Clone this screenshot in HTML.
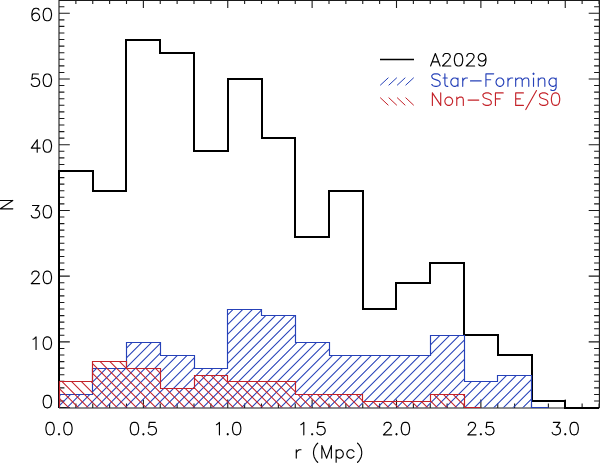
<!DOCTYPE html><html><head><meta charset="utf-8"><title>A2029 histogram</title><style>html,body{margin:0;padding:0;background:#fff;width:600px;height:463px;overflow:hidden;}svg{display:block;}</style></head><body>
<svg width="600" height="463" viewBox="0 0 600 463">
<rect width="600" height="463" fill="#fff"/>
<defs>
<clipPath id="cb"><path d="M59.50 407.50 L59.50 394.50 L92.50 394.50 L92.50 368.50 L126.50 368.50 L126.50 342.50 L160.50 342.50 L160.50 355.50 L194.50 355.50 L194.50 368.50 L227.50 368.50 L227.50 309.50 L261.50 309.50 L261.50 315.50 L295.50 315.50 L295.50 342.50 L329.50 342.50 L329.50 355.50 L362.50 355.50 L362.50 355.50 L396.50 355.50 L396.50 355.50 L430.50 355.50 L430.50 335.50 L464.50 335.50 L464.50 381.50 L497.50 381.50 L497.50 375.50 L531.50 375.50 L531.50 407.50 L565.50 407.50 L565.50 407.50 Z"/></clipPath>
<clipPath id="cr"><path d="M59.50 407.50 L59.50 381.50 L92.50 381.50 L92.50 361.50 L126.50 361.50 L126.50 368.50 L160.50 368.50 L160.50 388.50 L194.50 388.50 L194.50 375.50 L227.50 375.50 L227.50 381.50 L261.50 381.50 L261.50 381.50 L295.50 381.50 L295.50 394.50 L329.50 394.50 L329.50 394.50 L362.50 394.50 L362.50 401.50 L396.50 401.50 L396.50 401.50 L430.50 401.50 L430.50 394.50 L464.50 394.50 L464.50 407.50 L497.50 407.50 L497.50 407.50 Z"/></clipPath>
</defs>
<path d="M59.00 0.00 L59.00 407.60 M59.00 408.00 L599.00 408.00 M599.40 0.00 L599.40 408.10 M59.00 0.50 L599.00 0.50 M59.00 407.60 L59.00 399.50 M59.00 0.00 L59.00 8.10 M75.88 407.60 L75.88 403.55 M75.88 0.00 L75.88 4.05 M92.75 407.60 L92.75 403.55 M92.75 0.00 L92.75 4.05 M109.62 407.60 L109.62 403.55 M109.62 0.00 L109.62 4.05 M126.50 407.60 L126.50 403.55 M126.50 0.00 L126.50 4.05 M143.38 407.60 L143.38 399.50 M143.38 0.00 L143.38 8.10 M160.25 407.60 L160.25 403.55 M160.25 0.00 L160.25 4.05 M177.12 407.60 L177.12 403.55 M177.12 0.00 L177.12 4.05 M194.00 407.60 L194.00 403.55 M194.00 0.00 L194.00 4.05 M210.88 407.60 L210.88 403.55 M210.88 0.00 L210.88 4.05 M227.75 407.60 L227.75 399.50 M227.75 0.00 L227.75 8.10 M244.62 407.60 L244.62 403.55 M244.62 0.00 L244.62 4.05 M261.50 407.60 L261.50 403.55 M261.50 0.00 L261.50 4.05 M278.38 407.60 L278.38 403.55 M278.38 0.00 L278.38 4.05 M295.25 407.60 L295.25 403.55 M295.25 0.00 L295.25 4.05 M312.12 407.60 L312.12 399.50 M312.12 0.00 L312.12 8.10 M329.00 407.60 L329.00 403.55 M329.00 0.00 L329.00 4.05 M345.88 407.60 L345.88 403.55 M345.88 0.00 L345.88 4.05 M362.75 407.60 L362.75 403.55 M362.75 0.00 L362.75 4.05 M379.62 407.60 L379.62 403.55 M379.62 0.00 L379.62 4.05 M396.50 407.60 L396.50 399.50 M396.50 0.00 L396.50 8.10 M413.38 407.60 L413.38 403.55 M413.38 0.00 L413.38 4.05 M430.25 407.60 L430.25 403.55 M430.25 0.00 L430.25 4.05 M447.13 407.60 L447.13 403.55 M447.13 0.00 L447.13 4.05 M464.00 407.60 L464.00 403.55 M464.00 0.00 L464.00 4.05 M480.88 407.60 L480.88 399.50 M480.88 0.00 L480.88 8.10 M497.75 407.60 L497.75 403.55 M497.75 0.00 L497.75 4.05 M514.62 407.60 L514.62 403.55 M514.62 0.00 L514.62 4.05 M531.50 407.60 L531.50 403.55 M531.50 0.00 L531.50 4.05 M548.38 407.60 L548.38 403.55 M548.38 0.00 L548.38 4.05 M565.25 407.60 L565.25 399.50 M565.25 0.00 L565.25 8.10 M582.12 407.60 L582.12 403.55 M582.12 0.00 L582.12 4.05 M599.00 407.60 L599.00 403.55 M599.00 0.00 L599.00 4.05 M59.00 407.60 L69.80 407.60 M599.50 407.60 L588.70 407.60 M59.00 401.03 L64.40 401.03 M599.50 401.03 L594.10 401.03 M59.00 394.46 L64.40 394.46 M599.50 394.46 L594.10 394.46 M59.00 387.88 L64.40 387.88 M599.50 387.88 L594.10 387.88 M59.00 381.31 L64.40 381.31 M599.50 381.31 L594.10 381.31 M59.00 374.74 L64.40 374.74 M599.50 374.74 L594.10 374.74 M59.00 368.17 L64.40 368.17 M599.50 368.17 L594.10 368.17 M59.00 361.60 L64.40 361.60 M599.50 361.60 L594.10 361.60 M59.00 355.02 L64.40 355.02 M599.50 355.02 L594.10 355.02 M59.00 348.45 L64.40 348.45 M599.50 348.45 L594.10 348.45 M59.00 341.88 L69.80 341.88 M599.50 341.88 L588.70 341.88 M59.00 335.31 L64.40 335.31 M599.50 335.31 L594.10 335.31 M59.00 328.74 L64.40 328.74 M599.50 328.74 L594.10 328.74 M59.00 322.16 L64.40 322.16 M599.50 322.16 L594.10 322.16 M59.00 315.59 L64.40 315.59 M599.50 315.59 L594.10 315.59 M59.00 309.02 L64.40 309.02 M599.50 309.02 L594.10 309.02 M59.00 302.45 L64.40 302.45 M599.50 302.45 L594.10 302.45 M59.00 295.88 L64.40 295.88 M599.50 295.88 L594.10 295.88 M59.00 289.30 L64.40 289.30 M599.50 289.30 L594.10 289.30 M59.00 282.73 L64.40 282.73 M599.50 282.73 L594.10 282.73 M59.00 276.16 L69.80 276.16 M599.50 276.16 L588.70 276.16 M59.00 269.59 L64.40 269.59 M599.50 269.59 L594.10 269.59 M59.00 263.02 L64.40 263.02 M599.50 263.02 L594.10 263.02 M59.00 256.44 L64.40 256.44 M599.50 256.44 L594.10 256.44 M59.00 249.87 L64.40 249.87 M599.50 249.87 L594.10 249.87 M59.00 243.30 L64.40 243.30 M599.50 243.30 L594.10 243.30 M59.00 236.73 L64.40 236.73 M599.50 236.73 L594.10 236.73 M59.00 230.16 L64.40 230.16 M599.50 230.16 L594.10 230.16 M59.00 223.58 L64.40 223.58 M599.50 223.58 L594.10 223.58 M59.00 217.01 L64.40 217.01 M599.50 217.01 L594.10 217.01 M59.00 210.44 L69.80 210.44 M599.50 210.44 L588.70 210.44 M59.00 203.87 L64.40 203.87 M599.50 203.87 L594.10 203.87 M59.00 197.30 L64.40 197.30 M599.50 197.30 L594.10 197.30 M59.00 190.72 L64.40 190.72 M599.50 190.72 L594.10 190.72 M59.00 184.15 L64.40 184.15 M599.50 184.15 L594.10 184.15 M59.00 177.58 L64.40 177.58 M599.50 177.58 L594.10 177.58 M59.00 171.01 L64.40 171.01 M599.50 171.01 L594.10 171.01 M59.00 164.44 L64.40 164.44 M599.50 164.44 L594.10 164.44 M59.00 157.86 L64.40 157.86 M599.50 157.86 L594.10 157.86 M59.00 151.29 L64.40 151.29 M599.50 151.29 L594.10 151.29 M59.00 144.72 L69.80 144.72 M599.50 144.72 L588.70 144.72 M59.00 138.15 L64.40 138.15 M599.50 138.15 L594.10 138.15 M59.00 131.58 L64.40 131.58 M599.50 131.58 L594.10 131.58 M59.00 125.00 L64.40 125.00 M599.50 125.00 L594.10 125.00 M59.00 118.43 L64.40 118.43 M599.50 118.43 L594.10 118.43 M59.00 111.86 L64.40 111.86 M599.50 111.86 L594.10 111.86 M59.00 105.29 L64.40 105.29 M599.50 105.29 L594.10 105.29 M59.00 98.72 L64.40 98.72 M599.50 98.72 L594.10 98.72 M59.00 92.14 L64.40 92.14 M599.50 92.14 L594.10 92.14 M59.00 85.57 L64.40 85.57 M599.50 85.57 L594.10 85.57 M59.00 79.00 L69.80 79.00 M599.50 79.00 L588.70 79.00 M59.00 72.43 L64.40 72.43 M599.50 72.43 L594.10 72.43 M59.00 65.86 L64.40 65.86 M599.50 65.86 L594.10 65.86 M59.00 59.28 L64.40 59.28 M599.50 59.28 L594.10 59.28 M59.00 52.71 L64.40 52.71 M599.50 52.71 L594.10 52.71 M59.00 46.14 L64.40 46.14 M599.50 46.14 L594.10 46.14 M59.00 39.57 L64.40 39.57 M599.50 39.57 L594.10 39.57 M59.00 33.00 L64.40 33.00 M599.50 33.00 L594.10 33.00 M59.00 26.42 L64.40 26.42 M599.50 26.42 L594.10 26.42 M59.00 19.85 L64.40 19.85 M599.50 19.85 L594.10 19.85 M59.00 13.28 L69.80 13.28 M599.50 13.28 L588.70 13.28 M59.00 6.71 L64.40 6.71 M599.50 6.71 L594.10 6.71 M59.00 0.14 L64.40 0.14 M599.50 0.14 L594.10 0.14" stroke="#1a1a1a" stroke-width="1.10" fill="none"/>
<path d="M59.00 408.00 L59.00 171.00 L93.00 171.00 L93.00 191.00 L126.00 191.00 L126.00 40.00 L160.00 40.00 L160.00 53.00 L194.00 53.00 L194.00 151.00 L228.00 151.00 L228.00 79.00 L262.00 79.00 L262.00 138.00 L295.00 138.00 L295.00 237.00 L329.00 237.00 L329.00 191.00 L363.00 191.00 L363.00 309.00 L396.00 309.00 L396.00 283.00 L430.00 283.00 L430.00 263.00 L464.00 263.00 L464.00 335.00 L498.00 335.00 L498.00 355.00 L532.00 355.00 L532.00 401.00 L565.00 401.00 L565.00 408.00 L599.00 408.00" stroke="#000" stroke-width="2" fill="none"/>
<path clip-path="url(#cb)" d="M-71.20 410.00 L38.80 300.00 M-61.50 410.00 L48.50 300.00 M-51.80 410.00 L58.20 300.00 M-42.10 410.00 L67.90 300.00 M-32.40 410.00 L77.60 300.00 M-22.70 410.00 L87.30 300.00 M-13.00 410.00 L97.00 300.00 M-3.30 410.00 L106.70 300.00 M6.40 410.00 L116.40 300.00 M16.10 410.00 L126.10 300.00 M25.80 410.00 L135.80 300.00 M35.50 410.00 L145.50 300.00 M45.20 410.00 L155.20 300.00 M54.90 410.00 L164.90 300.00 M64.60 410.00 L174.60 300.00 M74.30 410.00 L184.30 300.00 M84.00 410.00 L194.00 300.00 M93.70 410.00 L203.70 300.00 M103.40 410.00 L213.40 300.00 M113.10 410.00 L223.10 300.00 M122.80 410.00 L232.80 300.00 M132.50 410.00 L242.50 300.00 M142.20 410.00 L252.20 300.00 M151.90 410.00 L261.90 300.00 M161.60 410.00 L271.60 300.00 M171.30 410.00 L281.30 300.00 M181.00 410.00 L291.00 300.00 M190.70 410.00 L300.70 300.00 M200.40 410.00 L310.40 300.00 M210.10 410.00 L320.10 300.00 M219.80 410.00 L329.80 300.00 M229.50 410.00 L339.50 300.00 M239.20 410.00 L349.20 300.00 M248.90 410.00 L358.90 300.00 M258.60 410.00 L368.60 300.00 M268.30 410.00 L378.30 300.00 M278.00 410.00 L388.00 300.00 M287.70 410.00 L397.70 300.00 M297.40 410.00 L407.40 300.00 M307.10 410.00 L417.10 300.00 M316.80 410.00 L426.80 300.00 M326.50 410.00 L436.50 300.00 M336.20 410.00 L446.20 300.00 M345.90 410.00 L455.90 300.00 M355.60 410.00 L465.60 300.00 M365.30 410.00 L475.30 300.00 M375.00 410.00 L485.00 300.00 M384.70 410.00 L494.70 300.00 M394.40 410.00 L504.40 300.00 M404.10 410.00 L514.10 300.00 M413.80 410.00 L523.80 300.00 M423.50 410.00 L533.50 300.00 M433.20 410.00 L543.20 300.00 M442.90 410.00 L552.90 300.00 M452.60 410.00 L562.60 300.00 M462.30 410.00 L572.30 300.00 M472.00 410.00 L582.00 300.00 M481.70 410.00 L591.70 300.00 M491.40 410.00 L601.40 300.00 M501.10 410.00 L611.10 300.00 M510.80 410.00 L620.80 300.00 M520.50 410.00 L630.50 300.00 M530.20 410.00 L640.20 300.00 M539.90 410.00 L649.90 300.00 M549.60 410.00 L659.60 300.00 M559.30 410.00 L669.30 300.00 M569.00 410.00 L679.00 300.00 M578.70 410.00 L688.70 300.00" stroke="#2641b8" stroke-width="1.05" fill="none"/>
<path d="M59.50 407.50 L59.50 394.50 L92.50 394.50 L92.50 368.50 L126.50 368.50 L126.50 342.50 L160.50 342.50 L160.50 355.50 L194.50 355.50 L194.50 368.50 L227.50 368.50 L227.50 309.50 L261.50 309.50 L261.50 315.50 L295.50 315.50 L295.50 342.50 L329.50 342.50 L329.50 355.50 L362.50 355.50 L362.50 355.50 L396.50 355.50 L396.50 355.50 L430.50 355.50 L430.50 335.50 L464.50 335.50 L464.50 381.50 L497.50 381.50 L497.50 375.50 L531.50 375.50 L531.50 407.50 L548.50 407.50" stroke="#2641b8" stroke-width="1.15" fill="none"/>
<path clip-path="url(#cr)" d="M-27.80 350.00 L32.20 410.00 M-18.10 350.00 L41.90 410.00 M-8.40 350.00 L51.60 410.00 M1.30 350.00 L61.30 410.00 M11.00 350.00 L71.00 410.00 M20.70 350.00 L80.70 410.00 M30.40 350.00 L90.40 410.00 M40.10 350.00 L100.10 410.00 M49.80 350.00 L109.80 410.00 M59.50 350.00 L119.50 410.00 M69.20 350.00 L129.20 410.00 M78.90 350.00 L138.90 410.00 M88.60 350.00 L148.60 410.00 M98.30 350.00 L158.30 410.00 M108.00 350.00 L168.00 410.00 M117.70 350.00 L177.70 410.00 M127.40 350.00 L187.40 410.00 M137.10 350.00 L197.10 410.00 M146.80 350.00 L206.80 410.00 M156.50 350.00 L216.50 410.00 M166.20 350.00 L226.20 410.00 M175.90 350.00 L235.90 410.00 M185.60 350.00 L245.60 410.00 M195.30 350.00 L255.30 410.00 M205.00 350.00 L265.00 410.00 M214.70 350.00 L274.70 410.00 M224.40 350.00 L284.40 410.00 M234.10 350.00 L294.10 410.00 M243.80 350.00 L303.80 410.00 M253.50 350.00 L313.50 410.00 M263.20 350.00 L323.20 410.00 M272.90 350.00 L332.90 410.00 M282.60 350.00 L342.60 410.00 M292.30 350.00 L352.30 410.00 M302.00 350.00 L362.00 410.00 M311.70 350.00 L371.70 410.00 M321.40 350.00 L381.40 410.00 M331.10 350.00 L391.10 410.00 M340.80 350.00 L400.80 410.00 M350.50 350.00 L410.50 410.00 M360.20 350.00 L420.20 410.00 M369.90 350.00 L429.90 410.00 M379.60 350.00 L439.60 410.00 M389.30 350.00 L449.30 410.00 M399.00 350.00 L459.00 410.00 M408.70 350.00 L468.70 410.00 M418.40 350.00 L478.40 410.00 M428.10 350.00 L488.10 410.00 M437.80 350.00 L497.80 410.00 M447.50 350.00 L507.50 410.00 M457.20 350.00 L517.20 410.00 M466.90 350.00 L526.90 410.00 M476.60 350.00 L536.60 410.00 M486.30 350.00 L546.30 410.00 M496.00 350.00 L556.00 410.00 M505.70 350.00 L565.70 410.00 M515.40 350.00 L575.40 410.00" stroke="#c42229" stroke-width="1.05" fill="none"/>
<path d="M59.50 407.50 L59.50 381.50 L92.50 381.50 L92.50 361.50 L126.50 361.50 L126.50 368.50 L160.50 368.50 L160.50 388.50 L194.50 388.50 L194.50 375.50 L227.50 375.50 L227.50 381.50 L261.50 381.50 L261.50 381.50 L295.50 381.50 L295.50 394.50 L329.50 394.50 L329.50 394.50 L362.50 394.50 L362.50 401.50 L396.50 401.50 L396.50 401.50 L430.50 401.50 L430.50 394.50 L464.50 394.50 L464.50 407.50 L480.50 407.50" stroke="#c42229" stroke-width="1.15" fill="none"/>
<path d="M46.75 395.31 L44.97 395.90 L43.78 397.69 L43.18 400.66 L43.18 402.44 L43.78 405.42 L44.97 407.20 L46.75 407.80 L47.95 407.80 L49.73 407.20 L50.92 405.42 L51.52 402.44 L51.52 400.66 L50.92 397.69 L49.73 395.90 L47.95 395.31 L46.75 395.31 M33.07 339.26 L34.26 338.67 L36.05 336.88 L36.05 349.38 M46.75 336.88 L44.97 337.48 L43.78 339.26 L43.19 342.24 L43.19 344.02 L43.78 347.00 L44.97 348.78 L46.75 349.38 L47.95 349.38 L49.73 348.78 L50.92 347.00 L51.52 344.02 L51.52 342.24 L50.92 339.26 L49.73 337.48 L47.95 336.88 L46.75 336.88 M31.88 274.14 L31.88 273.55 L32.48 272.36 L33.07 271.76 L34.26 271.17 L36.64 271.17 L37.83 271.76 L38.42 272.36 L39.02 273.55 L39.02 274.74 L38.42 275.93 L37.23 277.71 L31.29 283.66 L39.62 283.66 M46.75 271.17 L44.97 271.76 L43.78 273.55 L43.19 276.52 L43.19 278.31 L43.78 281.28 L44.97 283.06 L46.75 283.66 L47.95 283.66 L49.73 283.06 L50.92 281.28 L51.52 278.31 L51.52 276.52 L50.92 273.55 L49.73 271.76 L47.95 271.17 L46.75 271.17 M32.48 205.45 L39.02 205.45 L35.45 210.21 L37.23 210.21 L38.42 210.80 L39.02 211.40 L39.62 213.18 L39.62 214.37 L39.02 216.16 L37.83 217.35 L36.05 217.94 L34.26 217.94 L32.48 217.35 L31.88 216.75 L31.29 215.56 M46.75 205.45 L44.97 206.04 L43.78 207.83 L43.19 210.80 L43.19 212.59 L43.78 215.56 L44.97 217.35 L46.75 217.94 L47.95 217.94 L49.73 217.35 L50.92 215.56 L51.52 212.59 L51.52 210.80 L50.92 207.83 L49.73 206.04 L47.95 205.45 L46.75 205.45 M37.23 139.73 L31.29 148.06 L40.21 148.06 M37.23 139.73 L37.23 152.22 M46.75 139.73 L44.97 140.32 L43.78 142.11 L43.19 145.08 L43.19 146.87 L43.78 149.84 L44.97 151.63 L46.75 152.22 L47.95 152.22 L49.73 151.63 L50.92 149.84 L51.52 146.87 L51.52 145.08 L50.92 142.11 L49.73 140.32 L47.95 139.73 L46.75 139.73 M38.42 74.00 L32.48 74.00 L31.88 79.36 L32.48 78.77 L34.26 78.17 L36.05 78.17 L37.83 78.77 L39.02 79.95 L39.62 81.74 L39.62 82.93 L39.02 84.72 L37.83 85.91 L36.05 86.50 L34.26 86.50 L32.48 85.91 L31.88 85.31 L31.29 84.12 M46.75 74.00 L44.97 74.60 L43.78 76.39 L43.19 79.36 L43.19 81.14 L43.78 84.12 L44.97 85.91 L46.75 86.50 L47.95 86.50 L49.73 85.91 L50.92 84.12 L51.52 81.14 L51.52 79.36 L50.92 76.39 L49.73 74.60 L47.95 74.00 L46.75 74.00 M39.02 10.07 L38.42 8.88 L36.64 8.29 L35.45 8.29 L33.66 8.88 L32.48 10.67 L31.88 13.64 L31.88 16.62 L32.48 19.00 L33.66 20.19 L35.45 20.78 L36.05 20.78 L37.83 20.19 L39.02 19.00 L39.62 17.21 L39.62 16.62 L39.02 14.83 L37.83 13.64 L36.05 13.05 L35.45 13.05 L33.66 13.64 L32.48 14.83 L31.88 16.62 M46.75 8.29 L44.97 8.88 L43.78 10.67 L43.19 13.64 L43.19 15.43 L43.78 18.40 L44.97 20.19 L46.75 20.78 L47.95 20.78 L49.73 20.19 L50.92 18.40 L51.52 15.43 L51.52 13.64 L50.92 10.67 L49.73 8.88 L47.95 8.29 L46.75 8.29 M49.48 422.31 L47.70 422.90 L46.51 424.69 L45.91 427.66 L45.91 429.44 L46.51 432.42 L47.70 434.20 L49.48 434.80 L50.67 434.80 L52.45 434.20 L53.64 432.42 L54.24 429.44 L54.24 427.66 L53.64 424.69 L52.45 422.90 L50.67 422.31 L49.48 422.31 M59.00 433.61 L58.41 434.20 L59.00 434.80 L59.59 434.20 L59.00 433.61 M67.33 422.31 L65.55 422.90 L64.36 424.69 L63.76 427.66 L63.76 429.44 L64.36 432.42 L65.55 434.20 L67.33 434.80 L68.52 434.80 L70.31 434.20 L71.50 432.42 L72.09 429.44 L72.09 427.66 L71.50 424.69 L70.31 422.90 L68.52 422.31 L67.33 422.31 M133.85 422.31 L132.07 422.90 L130.88 424.69 L130.28 427.66 L130.28 429.44 L130.88 432.42 L132.07 434.20 L133.85 434.80 L135.04 434.80 L136.83 434.20 L138.02 432.42 L138.62 429.44 L138.62 427.66 L138.02 424.69 L136.83 422.90 L135.04 422.31 L133.85 422.31 M143.38 433.61 L142.78 434.20 L143.38 434.80 L143.97 434.20 L143.38 433.61 M155.28 422.31 L149.32 422.31 L148.73 427.66 L149.32 427.06 L151.11 426.47 L152.90 426.47 L154.68 427.06 L155.87 428.25 L156.47 430.04 L156.47 431.23 L155.87 433.01 L154.68 434.20 L152.90 434.80 L151.11 434.80 L149.32 434.20 L148.73 433.61 L148.13 432.42 M216.44 424.69 L217.63 424.09 L219.42 422.31 L219.42 434.80 M227.75 433.61 L227.16 434.20 L227.75 434.80 L228.34 434.20 L227.75 433.61 M236.08 422.31 L234.29 422.90 L233.10 424.69 L232.51 427.66 L232.51 429.44 L233.10 432.42 L234.29 434.20 L236.08 434.80 L237.27 434.80 L239.06 434.20 L240.25 432.42 L240.84 429.44 L240.84 427.66 L240.25 424.69 L239.06 422.90 L237.27 422.31 L236.08 422.31 M300.82 424.69 L302.01 424.09 L303.80 422.31 L303.80 434.80 M312.12 433.61 L311.53 434.20 L312.12 434.80 L312.72 434.20 L312.12 433.61 M324.02 422.31 L318.07 422.31 L317.48 427.66 L318.07 427.06 L319.86 426.47 L321.64 426.47 L323.43 427.06 L324.62 428.25 L325.21 430.04 L325.21 431.23 L324.62 433.01 L323.43 434.20 L321.64 434.80 L319.86 434.80 L318.07 434.20 L317.48 433.61 L316.88 432.42 M384.00 425.28 L384.00 424.69 L384.60 423.50 L385.19 422.90 L386.38 422.31 L388.76 422.31 L389.95 422.90 L390.55 423.50 L391.14 424.69 L391.14 425.88 L390.55 427.06 L389.36 428.85 L383.41 434.80 L391.74 434.80 M396.50 433.61 L395.90 434.20 L396.50 434.80 L397.10 434.20 L396.50 433.61 M404.83 422.31 L403.05 422.90 L401.86 424.69 L401.26 427.66 L401.26 429.44 L401.86 432.42 L403.05 434.20 L404.83 434.80 L406.02 434.80 L407.81 434.20 L409.00 432.42 L409.59 429.44 L409.59 427.66 L409.00 424.69 L407.81 422.90 L406.02 422.31 L404.83 422.31 M468.38 425.28 L468.38 424.69 L468.98 423.50 L469.57 422.90 L470.76 422.31 L473.14 422.31 L474.33 422.90 L474.93 423.50 L475.52 424.69 L475.52 425.88 L474.93 427.06 L473.74 428.85 L467.79 434.80 L476.12 434.80 M480.88 433.61 L480.28 434.20 L480.88 434.80 L481.47 434.20 L480.88 433.61 M492.77 422.31 L486.82 422.31 L486.23 427.66 L486.82 427.06 L488.61 426.47 L490.39 426.47 L492.18 427.06 L493.37 428.25 L493.96 430.04 L493.96 431.23 L493.37 433.01 L492.18 434.20 L490.39 434.80 L488.61 434.80 L486.82 434.20 L486.23 433.61 L485.63 432.42 M553.35 422.31 L559.89 422.31 L556.33 427.06 L558.11 427.06 L559.30 427.66 L559.89 428.25 L560.49 430.04 L560.49 431.23 L559.89 433.01 L558.71 434.20 L556.92 434.80 L555.13 434.80 L553.35 434.20 L552.75 433.61 L552.16 432.42 M565.25 433.61 L564.65 434.20 L565.25 434.80 L565.85 434.20 L565.25 433.61 M573.58 422.31 L571.79 422.90 L570.61 424.69 L570.01 427.66 L570.01 429.44 L570.61 432.42 L571.79 434.20 L573.58 434.80 L574.77 434.80 L576.55 434.20 L577.75 432.42 L578.34 429.44 L578.34 427.66 L577.75 424.69 L576.55 422.90 L574.77 422.31 L573.58 422.31 M296.27 449.77 L296.27 458.10 M296.27 453.34 L296.87 451.56 L298.06 450.37 L299.25 449.77 L301.03 449.77 M317.69 443.23 L316.50 444.42 L315.31 446.20 L314.12 448.58 L313.53 451.56 L313.53 453.94 L314.12 456.91 L315.31 459.29 L316.50 461.08 L317.69 462.27 M321.86 445.61 L321.86 458.10 M321.86 445.61 L326.62 458.10 M331.38 445.61 L326.62 458.10 M331.38 445.61 L331.38 458.10 M336.14 449.77 L336.14 462.27 M336.14 451.56 L337.33 450.37 L338.52 449.77 L340.30 449.77 L341.50 450.37 L342.69 451.56 L343.28 453.34 L343.28 454.53 L342.69 456.31 L341.50 457.50 L340.30 458.10 L338.52 458.10 L337.33 457.50 L336.14 456.31 M353.99 451.56 L352.80 450.37 L351.61 449.77 L349.82 449.77 L348.63 450.37 L347.44 451.56 L346.85 453.34 L346.85 454.53 L347.44 456.31 L348.63 457.50 L349.82 458.10 L351.61 458.10 L352.80 457.50 L353.99 456.31 M357.56 443.23 L358.75 444.42 L359.94 446.20 L361.13 448.58 L361.72 451.56 L361.72 453.94 L361.13 456.91 L359.94 459.29 L358.75 461.08 L357.56 462.27 M0.31 208.81 L12.80 208.81 M0.31 208.81 L12.80 200.48 M0.31 200.48 L12.80 200.48 M435.36 53.51 L430.60 66.00 M435.36 53.51 L440.12 66.00 M432.38 61.84 L438.33 61.84 M443.09 56.48 L443.09 55.88 L443.69 54.70 L444.28 54.10 L445.47 53.51 L447.85 53.51 L449.04 54.10 L449.63 54.70 L450.23 55.88 L450.23 57.08 L449.63 58.27 L448.44 60.05 L442.50 66.00 L450.82 66.00 M457.96 53.51 L456.18 54.10 L454.99 55.88 L454.39 58.86 L454.39 60.65 L454.99 63.62 L456.18 65.41 L457.96 66.00 L459.15 66.00 L460.94 65.41 L462.13 63.62 L462.73 60.65 L462.73 58.86 L462.13 55.88 L460.94 54.10 L459.15 53.51 L457.96 53.51 M466.89 56.48 L466.89 55.88 L467.49 54.70 L468.08 54.10 L469.27 53.51 L471.65 53.51 L472.84 54.10 L473.44 54.70 L474.03 55.88 L474.03 57.08 L473.44 58.27 L472.25 60.05 L466.30 66.00 L474.62 66.00 M485.93 57.67 L485.33 59.45 L484.14 60.65 L482.36 61.24 L481.76 61.24 L479.98 60.65 L478.79 59.45 L478.19 57.67 L478.19 57.08 L478.79 55.29 L479.98 54.10 L481.76 53.51 L482.36 53.51 L484.14 54.10 L485.33 55.29 L485.93 57.67 L485.93 60.65 L485.33 63.62 L484.14 65.41 L482.36 66.00 L481.17 66.00 L479.38 65.41 L478.79 64.22" stroke="#000" stroke-width="1.15" fill="none" stroke-linecap="round" stroke-linejoin="round"/>
<path d="M440.12 75.59 L438.93 74.40 L437.14 73.80 L434.76 73.80 L432.98 74.40 L431.79 75.59 L431.79 76.78 L432.38 77.97 L432.98 78.56 L434.17 79.16 L437.74 80.35 L438.93 80.94 L439.52 81.54 L440.12 82.73 L440.12 84.52 L438.93 85.70 L437.14 86.30 L434.76 86.30 L432.98 85.70 L431.79 84.52 M444.88 73.80 L444.88 83.92 L445.47 85.70 L446.66 86.30 L447.85 86.30 M443.09 77.97 L447.25 77.97 M457.96 77.97 L457.96 86.30 M457.96 79.75 L456.77 78.56 L455.58 77.97 L453.80 77.97 L452.61 78.56 L451.42 79.75 L450.82 81.54 L450.82 82.73 L451.42 84.52 L452.61 85.70 L453.80 86.30 L455.58 86.30 L456.77 85.70 L457.96 84.52 M462.73 77.97 L462.73 86.30 M462.73 81.54 L463.32 79.75 L464.51 78.56 L465.70 77.97 L467.49 77.97 M470.46 80.94 L481.17 80.94 M485.93 73.80 L485.93 86.30 M485.93 73.80 L493.67 73.80 M485.93 79.75 L490.69 79.75 M499.02 77.97 L497.83 78.56 L496.64 79.75 L496.05 81.54 L496.05 82.73 L496.64 84.52 L497.83 85.70 L499.02 86.30 L500.81 86.30 L502.00 85.70 L503.19 84.52 L503.78 82.73 L503.78 81.54 L503.19 79.75 L502.00 78.56 L500.81 77.97 L499.02 77.97 M507.94 77.97 L507.94 86.30 M507.94 81.54 L508.54 79.75 L509.73 78.56 L510.92 77.97 L512.71 77.97 M515.68 77.97 L515.68 86.30 M515.68 80.35 L517.47 78.56 L518.65 77.97 L520.44 77.97 L521.63 78.56 L522.23 80.35 L522.23 86.30 M522.23 80.35 L524.01 78.56 L525.20 77.97 L526.99 77.97 L528.17 78.56 L528.77 80.35 L528.77 86.30 M532.93 73.80 L533.53 74.40 L534.12 73.80 L533.53 73.21 L532.93 73.80 M533.53 77.97 L533.53 86.30 M538.29 77.97 L538.29 86.30 M538.29 80.35 L540.08 78.56 L541.26 77.97 L543.05 77.97 L544.24 78.56 L544.84 80.35 L544.84 86.30 M556.14 77.97 L556.14 87.49 L555.54 89.27 L554.95 89.87 L553.76 90.47 L551.98 90.47 L550.78 89.87 M556.14 79.75 L554.95 78.56 L553.76 77.97 L551.98 77.97 L550.78 78.56 L549.60 79.75 L549.00 81.54 L549.00 82.73 L549.60 84.52 L550.78 85.70 L551.98 86.30 L553.76 86.30 L554.95 85.70 L556.14 84.52" stroke="#2641b8" stroke-width="1.15" fill="none" stroke-linecap="round" stroke-linejoin="round"/>
<path d="M432.38 92.91 L432.38 105.40 M432.38 92.91 L440.71 105.40 M440.71 92.91 L440.71 105.40 M447.85 97.07 L446.66 97.67 L445.47 98.86 L444.88 100.64 L444.88 101.83 L445.47 103.62 L446.66 104.81 L447.85 105.40 L449.63 105.40 L450.82 104.81 L452.01 103.62 L452.61 101.83 L452.61 100.64 L452.01 98.86 L450.82 97.67 L449.63 97.07 L447.85 97.07 M456.77 97.07 L456.77 105.40 M456.77 99.45 L458.56 97.67 L459.75 97.07 L461.54 97.07 L462.73 97.67 L463.32 99.45 L463.32 105.40 M468.08 100.05 L478.79 100.05 M491.28 94.69 L490.10 93.50 L488.31 92.91 L485.93 92.91 L484.14 93.50 L482.95 94.69 L482.95 95.88 L483.55 97.07 L484.14 97.67 L485.33 98.26 L488.90 99.45 L490.10 100.05 L490.69 100.64 L491.28 101.83 L491.28 103.62 L490.10 104.81 L488.31 105.40 L485.93 105.40 L484.14 104.81 L482.95 103.62 M495.45 92.91 L495.45 105.40 M495.45 92.91 L503.19 92.91 M495.45 98.86 L500.21 98.86 M515.68 92.91 L515.68 105.40 M515.68 92.91 L523.41 92.91 M515.68 98.86 L520.44 98.86 M515.68 105.40 L523.41 105.40 M536.50 90.53 L525.79 109.57 M547.81 94.69 L546.62 93.50 L544.84 92.91 L542.46 92.91 L540.67 93.50 L539.48 94.69 L539.48 95.88 L540.08 97.07 L540.67 97.67 L541.86 98.26 L545.43 99.45 L546.62 100.05 L547.22 100.64 L547.81 101.83 L547.81 103.62 L546.62 104.81 L544.84 105.40 L542.46 105.40 L540.67 104.81 L539.48 103.62 M554.95 92.91 L553.16 93.50 L551.98 95.29 L551.38 98.26 L551.38 100.05 L551.98 103.02 L553.16 104.81 L554.95 105.40 L556.14 105.40 L557.92 104.81 L559.12 103.02 L559.71 100.05 L559.71 98.26 L559.12 95.29 L557.92 93.50 L556.14 92.91 L554.95 92.91" stroke="#c42229" stroke-width="1.15" fill="none" stroke-linecap="round" stroke-linejoin="round"/>
<path d="M380.0 59.5 L414.0 59.5" stroke="#000" stroke-width="1.35"/>
<path d="M380.20 85.30 L388.40 77.70 M388.65 85.30 L396.85 77.70 M397.10 85.30 L405.30 77.70 M405.55 85.30 L413.75 77.70" stroke="#2641b8" stroke-width="1.0"/>
<path d="M380.20 97.60 L388.40 105.30 M388.65 97.60 L396.85 105.30 M397.10 97.60 L405.30 105.30 M405.55 97.60 L413.75 105.30" stroke="#c42229" stroke-width="1.0"/>
</svg></body></html>
